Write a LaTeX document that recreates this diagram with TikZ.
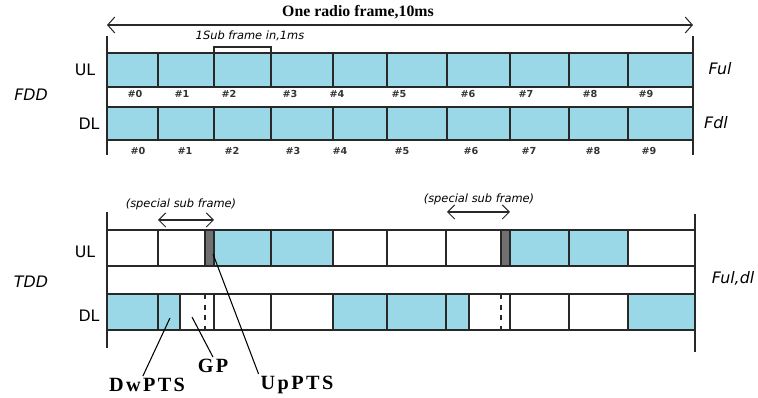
\documentclass[tikz,border=0pt]{standalone}
\usepackage{fontspec}
\setmainfont{Liberation Serif}
\setsansfont{DejaVu Sans}
\usetikzlibrary{shapes,arrows,arrows.meta,positioning}
\definecolor{slotblue}{RGB}{154,216,232}
\definecolor{ptsgray}{RGB}{112,112,112}
\definecolor{edgegray}{RGB}{40,40,40}
\tikzstyle{line} = [draw, edgegray, line width=0.7pt]
\tikzstyle{axis} = [draw, edgegray, line width=0.9pt]
\tikzstyle{span} = [draw, edgegray, line width=0.6pt, {Straight Barb[length=4pt,width=8pt]}-{Straight Barb[length=4pt,width=8pt]}]
\tikzstyle{lead} = [draw, black, line width=0.6pt]
\tikzstyle{row} = [font=\sffamily\fontsize{9}{9}\selectfont]
\tikzstyle{duplex} = [font=\sffamily\itshape\fontsize{9}{9}\selectfont]
\tikzstyle{idx} = [font=\sffamily\bfseries\fontsize{5.5}{5.5}\selectfont, text=black!80]
\tikzstyle{note} = [font=\sffamily\itshape\fontsize{6.5}{6.5}\selectfont]
\tikzstyle{field} = [font=\bfseries\fontsize{11.5}{11.5}\selectfont, inner sep=1pt]
\newcommand{\spread}[1]{\addfontfeature{LetterSpace=12}#1}

\begin{document}
\begin{tikzpicture}[x=0.02cm, y=-0.02cm]
	\useasboundingbox (0,0) rectangle (758,398);

	% radio frame span
	\node [font=\bfseries\fontsize{9}{9}\selectfont] (frame) at (358,12) {One radio frame,10ms};
	\coordinate (fl) at (107,25);
	\coordinate (fr) at (693,25);
	\path [draw, edgegray, line width=0.6pt, {Straight Barb[length=4pt,width=9pt]}-{Straight Barb[length=4pt,width=9pt]}] (fl) -- (fr);

	% FDD frame: both rows fully used
	\fill [slotblue] (107,53) rectangle (693,87);
	\fill [slotblue] (107,107) rectangle (693,140);
	\foreach \y in {53,87,107,140}
		\path [line] (107,\y) -- (693,\y);
	\foreach \x in {158,214,271,333,387,447,510,569,628} {
		\path [line] (\x,53) -- (\x,87);
		\path [line] (\x,107) -- (\x,140);
	}
	\path [axis] (107,36) -- (107,155);
	\path [axis] (693,36) -- (693,155);

	% one sub frame bracket
	\node [note] (sub) at (250,36) {1Sub frame in,1ms};
	\path [line, line width=0.6pt] (214,52) -- (214,47) -- (271,47) -- (271,52);

	\node [row] (ful) at (85,70) {UL};
	\node [row] (fdl) at (89,124) {DL};
	\node [duplex] (fdd) at (31,95) {FDD};
	\node [duplex] (fu) at (720,69) {Ful};
	\node [duplex] (fd) at (716,123) {Fdl};

	\foreach \n/\x in {0/135,1/182,2/229,3/290,4/337,5/399,6/468,7/526,8/590,9/646} {
		\node [idx] (u\n) at (\x,94) {\#\n};
		\node [idx] (d\n) at (\x+3,151) {\#\n};
	}

	% TDD frame
	\fill [slotblue] (214,230) rectangle (333,266);
	\fill [slotblue] (510,230) rectangle (628,266);
	\fill [ptsgray] (205,230) rectangle (214,266);
	\fill [ptsgray] (501,230) rectangle (510,266);
	\fill [slotblue] (107,294) rectangle (180,330);
	\fill [slotblue] (333,294) rectangle (469,330);
	\fill [slotblue] (628,294) rectangle (695,330);
	\foreach \y in {230,266,294,330}
		\path [line] (107,\y) -- (695,\y);
	\foreach \x in {158,205,214,271,333,387,446,501,510,569,628}
		\path [line] (\x,230) -- (\x,266);
	\foreach \x in {158,180,214,271,333,387,446,469,510,569,628}
		\path [line] (\x,294) -- (\x,330);
	\path [line, dash pattern=on 3pt off 3pt] (205,294) -- (205,330);
	\path [line, dash pattern=on 3pt off 3pt] (501,294) -- (501,330);
	\path [axis] (107,212) -- (107,348);
	\path [axis] (695,214) -- (695,352);

	% special sub frames
	\node [note] (sp1) at (181,204) {(special sub frame)};
	\coordinate (s1l) at (158,220);
	\coordinate (s1r) at (214,220);
	\path [span] (s1l) -- (s1r);
	\node [note] (sp2) at (479,199) {(special sub frame)};
	\coordinate (s2l) at (447,212);
	\coordinate (s2r) at (510,212);
	\path [span] (s2l) -- (s2r);

	\node [row] (tul) at (85,252) {UL};
	\node [row] (tdl) at (89,316) {DL};
	\node [duplex] (tdd) at (31,282) {TDD};
	\node [duplex] (fudl) at (733,278) {Ful,dl};

	% special sub frame fields
	\node [field] (dwpts) at (147,385) {\spread{DwPTS}};
	\node [field] (gp) at (213,366) {\spread{GP}};
	\node [field] (uppts) at (297,385) {\spread{UpPTS}};
	\coordinate (dw) at (170,318);
	\coordinate (g) at (192,317);
	\coordinate (up) at (213,254);
	\path [lead] (dw) -- (dwpts.115);
	\path [lead] (g) -- (gp.north);
	\path [lead] (up) -- (uppts.north west);
\end{tikzpicture}
\end{document}
